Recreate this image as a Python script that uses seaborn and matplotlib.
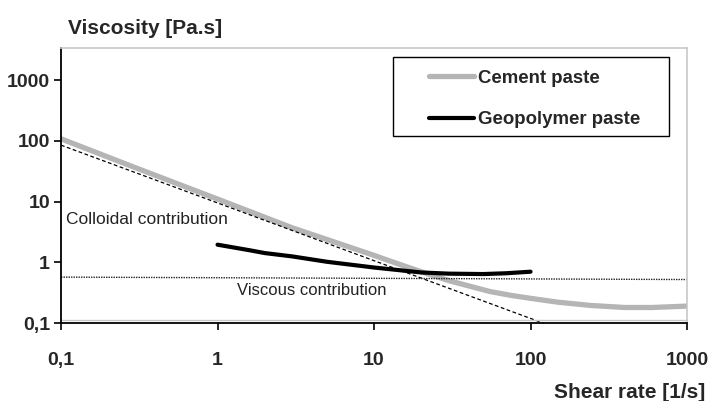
import matplotlib
matplotlib.use("Agg")
import matplotlib.pyplot as plt
import matplotlib.transforms as mtransforms
from matplotlib.patches import Rectangle
import pandas as pd
import seaborn as sns

# Cement paste flow curve
shear_cement = [0.1, 0.3, 1, 3, 10, 15, 20, 30, 40, 55, 75, 100, 150, 240, 400, 600, 1000]
visc_cement = [108, 36, 11, 3.7, 1.3, 0.9, 0.7, 0.5, 0.41, 0.33, 0.285, 0.255, 0.22, 0.195, 0.18, 0.18, 0.19]

# Geopolymer paste flow curve
shear_geo = [1, 1.6, 2, 3, 5, 10, 20, 30, 50, 70, 100]
visc_geo = [1.95, 1.58, 1.42, 1.25, 1.02, 0.82, 0.68, 0.65, 0.64, 0.66, 0.7]

# model contributions
shear_colloidal = [0.1, 120]
visc_colloidal = [85, 0.1]
shear_viscous = [0.1, 1000]
visc_viscous = [0.57, 0.52]

x_ticks = [0.1, 1, 10, 100, 1000]
x_ticklabels = ["0,1", "1", "10", "100", "1000"]
y_ticks = [0.1, 1, 10, 100, 1000]
y_ticklabels = ["0,1", "1", "10", "100", "1000"]

sns.set_theme(style="ticks")
plt.rcParams["font.family"] = ["Liberation Sans", "DejaVu Sans"]

fig = plt.figure(figsize=(7.13, 4.01), dpi=100)
ax = fig.add_axes([0.0856, 0.1945, 0.878, 0.6855])

cement = pd.DataFrame({"shear": shear_cement, "visc": visc_cement})
geo = pd.DataFrame({"shear": shear_geo, "visc": visc_geo})

sns.lineplot(data=cement, x="shear", y="visc", ax=ax, color="#b5b5b5",
             linewidth=3.8, label="Cement paste", solid_capstyle="round")
sns.lineplot(data=geo, x="shear", y="visc", ax=ax, color="black",
             linewidth=3.0, label="Geopolymer paste", solid_capstyle="round")
ax.plot(shear_colloidal, visc_colloidal, color="black", linestyle=(0, (3, 2)), linewidth=0.9)
ax.plot(shear_viscous, visc_viscous, color="#222222", linestyle=(0, (1, 0.8)), linewidth=1.0)

ax.set_xscale("log")
ax.set_yscale("log")
ax.set_xlim(0.1, 1000)
ax.set_ylim(0.1, 3370)
ax.minorticks_off()
ax.set_xticks(x_ticks)
ax.set_xticklabels(x_ticklabels)
ax.set_yticks(y_ticks)
ax.set_yticklabels(y_ticklabels)
ax.set_xlabel("")
ax.set_ylabel("")
ax.tick_params(axis="both", direction="out", length=5, width=1.2, color="black",
               labelsize=14)
for lab in ax.get_xticklabels() + ax.get_yticklabels():
    lab.set_fontweight("bold")
ax.tick_params(axis="x", pad=16)
ax.tick_params(axis="y", pad=3)

for side in ["top", "right"]:
    ax.spines[side].set_visible(True)
    ax.spines[side].set_color("#c8c8c8")
    ax.spines[side].set_linewidth(1.2)
for side in ["left", "bottom"]:
    ax.spines[side].set_color("black")
    ax.spines[side].set_linewidth(1.3)

# thin grey frame line just above the x axis
shift = mtransforms.ScaledTranslation(0, 3 / 100, fig.dpi_scale_trans)
ax.plot([0, 1], [0, 0], transform=ax.transAxes + shift, color="#c8c8c8",
        linewidth=1.0, clip_on=False)

ax.text(0.108, 5.1, "Colloidal contribution", fontsize=12.5, va="center", ha="left",
        color="#222222")
ax.text(1.33, 0.345, "Viscous contribution", fontsize=12, va="center", ha="left",
        color="#222222")

# legend without its own frame, boxed by a separate rectangle
leg = ax.legend(loc="upper left", bbox_to_anchor=(0.573, 0.955), frameon=False,
                handlelength=2.4, handletextpad=0.25, borderpad=0.0,
                labelspacing=1.3, prop={"weight": "bold", "size": 13.4})
ax.add_patch(Rectangle((0.530, 0.680), 0.441, 0.287, transform=ax.transAxes,
                       facecolor="none", edgecolor="black", linewidth=1.0, zorder=5))

fig.text(68 / 713, 0.93, "Viscosity [Pa.s]", fontsize=15, fontweight="bold",
         ha="left", va="center")
fig.text(705 / 713, 0.022, "Shear rate [1/s]", fontsize=15, fontweight="bold",
         ha="right", va="center")

fig.savefig("out.png", dpi=100)
